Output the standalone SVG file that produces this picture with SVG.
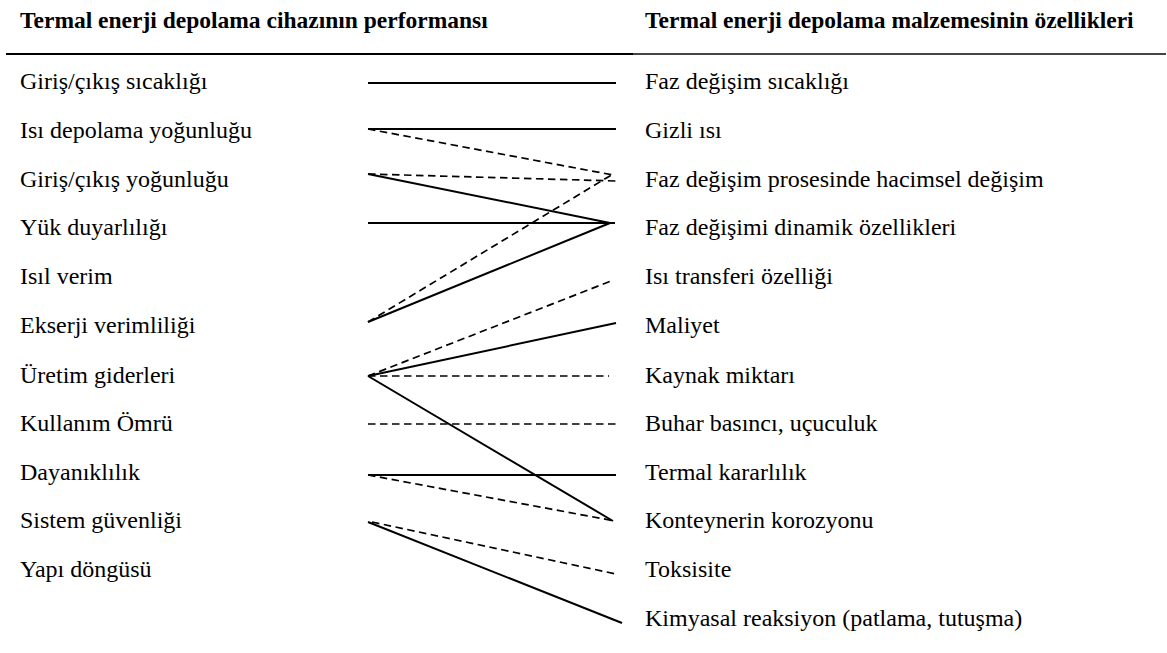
<svg xmlns="http://www.w3.org/2000/svg" width="1167" height="653" viewBox="0 0 1167 653">
<style>
text{font-family:"Liberation Serif","Times New Roman",serif;font-size:24px;fill:#000}
.h{font-weight:bold;font-size:23.5px}
.s{stroke:#000;stroke-width:2;fill:none}
.d{stroke:#000;stroke-width:1.7;fill:none;stroke-dasharray:7.5 4.5}
</style>
<rect width="1167" height="653" fill="#fff"/>
<g id="header">
<text class="h" x="20" y="28">Termal enerji depolama cihazının performansı</text>
<text class="h" x="645" y="28">Termal enerji depolama malzemesinin özellikleri</text>
<line x1="6" y1="54" x2="633" y2="54" stroke="#000" stroke-width="2.2"/>
<line x1="633" y1="54" x2="1166" y2="54" stroke="#444" stroke-width="2.2"/>
</g>
<g id="left">
<text x="20" y="89">Giriş/çıkış sıcaklığı</text>
<text x="20" y="138">Isı depolama yoğunluğu</text>
<text x="20" y="187">Giriş/çıkış yoğunluğu</text>
<text x="20" y="235">Yük duyarlılığı</text>
<text x="20" y="284">Isıl verim</text>
<text x="20" y="333">Ekserji verimliliği</text>
<text x="20" y="383">Üretim giderleri</text>
<text x="20" y="431">Kullanım Ömrü</text>
<text x="20" y="480">Dayanıklılık</text>
<text x="20" y="528">Sistem güvenliği</text>
<text x="20" y="577">Yapı döngüsü</text>
</g>
<g id="right">
<text x="645" y="89">Faz değişim sıcaklığı</text>
<text x="645" y="138">Gizli ısı</text>
<text x="645" y="187">Faz değişim prosesinde hacimsel değişim</text>
<text x="645" y="235">Faz değişimi dinamik özellikleri</text>
<text x="645" y="284">Isı transferi özelliği</text>
<text x="645" y="333">Maliyet</text>
<text x="645" y="383">Kaynak miktarı</text>
<text x="645" y="431">Buhar basıncı, uçuculuk</text>
<text x="645" y="480">Termal kararlılık</text>
<text x="645" y="528">Konteynerin korozyonu</text>
<text x="645" y="577">Toksisite</text>
<text x="645" y="626">Kimyasal reaksiyon (patlama, tutuşma)</text>
</g>
<g id="connectors">
<line class="s" x1="368" y1="83" x2="616" y2="83"/>
<line class="s" x1="368" y1="129" x2="616" y2="129"/>
<line class="d" x1="368" y1="129" x2="613" y2="175"/>
<line class="d" x1="368" y1="174" x2="616" y2="181"/>
<line class="s" x1="368" y1="174" x2="610" y2="223"/>
<line class="s" x1="368" y1="223" x2="615" y2="223"/>
<line class="s" x1="368" y1="322" x2="610" y2="223"/>
<line class="d" x1="368" y1="322" x2="613" y2="174"/>
<line class="d" x1="368" y1="376" x2="611" y2="281"/>
<line class="s" x1="368" y1="376" x2="616" y2="323"/>
<line class="d" x1="368" y1="376" x2="609" y2="376"/>
<line class="s" x1="368" y1="376" x2="613" y2="521"/>
<line class="d" x1="368" y1="424" x2="616" y2="424"/>
<line class="s" x1="368" y1="475" x2="616" y2="475"/>
<line class="d" x1="368" y1="475" x2="615" y2="521"/>
<line class="s" x1="368" y1="522" x2="622" y2="623"/>
<line class="d" x1="372" y1="522" x2="616" y2="574"/>
</g>
</svg>
